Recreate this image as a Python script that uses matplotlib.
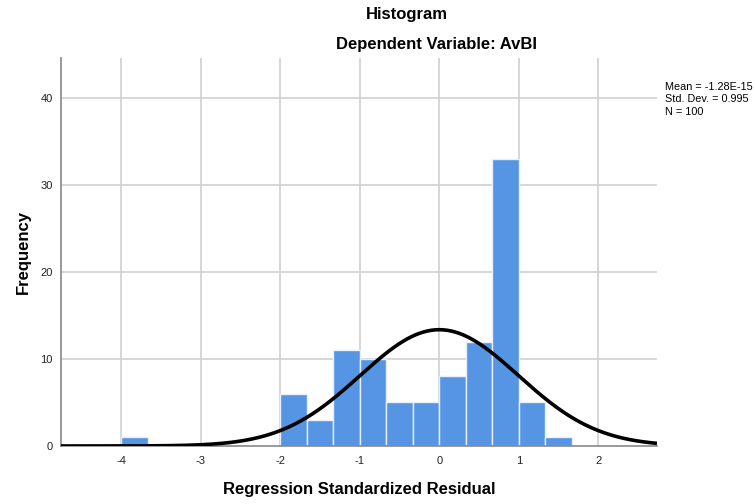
import numpy as np
import matplotlib
matplotlib.use("Agg")
import matplotlib.pyplot as plt

plt.rcParams['font.family'] = ['Liberation Sans', 'DejaVu Sans']

# Histogram of standardized residuals (bin width 1/3)
bin_edges = [-4, -11/3, -10/3, -3, -8/3, -7/3, -2, -5/3, -4/3, -1, -2/3, -1/3,
             0, 1/3, 2/3, 1, 4/3, 5/3]
counts = [1, 0, 0, 0, 0, 0, 6, 3, 11, 10, 5, 5, 8, 12, 33, 5, 1]
mean = -1.28e-15
std = 0.995
n = 100
x_ticks = [-4, -3, -2, -1, 0, 1, 2]
y_ticks = [0, 10, 20, 30, 40]

fig = plt.figure(figsize=(7.54, 5.04), dpi=100)
ax = fig.add_axes([0.0809, 0.1151, 0.7905, 0.770])

ax.set_xlim(-4.76, 2.74)
ax.set_ylim(0, 44.6)

ax.set_axisbelow(True)
for t in x_ticks:
    ax.axvline(t, color='#d0d0d0', lw=1.2, zorder=0)
for t in y_ticks[1:]:
    ax.axhline(t, color='#d0d0d0', lw=1.2, zorder=0)

lefts = np.array(bin_edges[:-1])
widths = np.diff(bin_edges)
ax.bar(lefts, counts, width=widths, align='edge', color='#5595e3',
       edgecolor='#e8eefa', linewidth=1.0, zorder=2)

bw = bin_edges[1] - bin_edges[0]
xs = np.linspace(-4.76, 2.74, 600)
ys = n * bw * np.exp(-0.5 * ((xs - mean) / std) ** 2) / (std * np.sqrt(2 * np.pi))
ax.plot(xs, ys, color='black', lw=2.6, zorder=3, solid_capstyle='butt')

ax.set_xticks(x_ticks)
ax.set_xticklabels([str(t) for t in x_ticks])
ax.set_yticks(y_ticks)
ax.tick_params(length=0, labelsize=8, colors='#222222')
ax.tick_params(axis='x', pad=7)
ax.tick_params(axis='y', pad=6)

for s in ['top', 'right']:
    ax.spines[s].set_visible(False)
ax.spines['left'].set_color('#888888')
ax.spines['bottom'].set_color('#888888')
ax.spines['left'].set_linewidth(1.2)
ax.spines['bottom'].set_linewidth(1.2)

ax.set_xlabel('Regression Standardized Residual', fontsize=12, fontweight='bold',
              labelpad=12)
ax.set_ylabel('Frequency', fontsize=12, fontweight='bold', labelpad=7)

fig.text(407 / 754, 1 - 15 / 504, 'Histogram', ha='center', va='center',
         fontsize=12, fontweight='bold')
fig.text(437 / 754, 1 - 45 / 504, 'Dependent Variable: AvBI', ha='center',
         va='center', fontsize=12, fontweight='bold')

fig.text(665 / 754, 1 - 99.5 / 504,
         'Mean = -1.28E-15\nStd. Dev. = 0.995\nN = 100',
         ha='left', va='center', fontsize=7.8, linespacing=1.3)

fig.savefig('out.png', dpi=100)
